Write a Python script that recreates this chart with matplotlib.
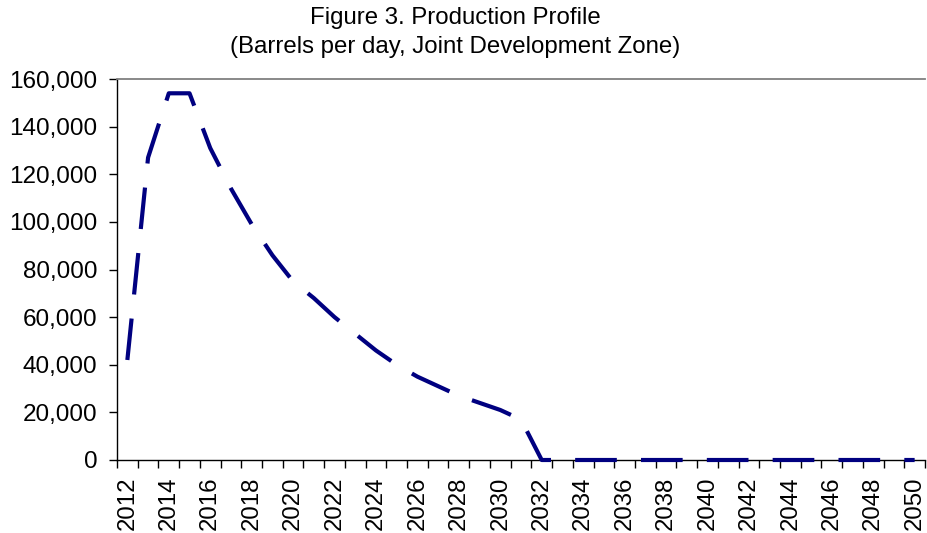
import numpy as np
import matplotlib
matplotlib.use("Agg")
import matplotlib.pyplot as plt
import matplotlib.ticker as mticker

plt.rcParams['font.family'] = ['Liberation Sans', 'DejaVu Sans']

years = list(range(2012, 2051))
production = [42000, 127000, 154000, 154000, 131000, 114000, 99000, 86000,
              75000, 68000, 60000, 53000, 46000, 40000, 35000, 31000, 27000,
              24000, 21000, 17000] + [0] * 19
year_labels = [str(y) for y in years[::2]]
y_ticks = [0, 20000, 40000, 60000, 80000, 100000, 120000, 140000, 160000]

fig = plt.figure(figsize=(9.27, 5.33), dpi=100)
ax = fig.add_axes([117 / 927, 73 / 533, 808 / 927, 381 / 533])

x = np.arange(len(years))
ax.plot(x, production, color='#000080', lw=3, dashes=(10, 5.8),
        dash_capstyle='butt', solid_joinstyle='miter', clip_on=False, zorder=5)

ax.set_xlim(-0.5, len(years) - 0.5)
ax.set_ylim(0, 160000)
ax.set_yticks(y_ticks)
ax.yaxis.set_major_formatter(mticker.FuncFormatter(lambda v, p: f'{int(v):,}'))

# ticks at category boundaries, labels at every other category centre
ax.set_xticks(np.arange(-0.5, len(years), 1.0))
ax.set_xticklabels([])
ax.set_xticks(x[::2], minor=True)
ax.set_xticklabels(year_labels, minor=True, rotation=90)
ax.tick_params(axis='x', which='major', direction='out', length=6, width=1, colors='black')
ax.tick_params(axis='x', which='minor', length=0, pad=12, labelsize=17.3)
ax.tick_params(axis='y', direction='out', length=6, width=1, pad=8, labelsize=17.5)

ax.spines['right'].set_visible(False)
ax.spines['top'].set_color('#808080')
ax.spines['top'].set_linewidth(1.3)
ax.spines['left'].set_linewidth(1)
ax.spines['bottom'].set_linewidth(1)

fig.text(455 / 927, 1 - 18 / 533, 'Figure 3. Production Profile', ha='center', va='center', fontsize=17.3)
fig.text(455 / 927, 1 - 47 / 533, '(Barrels per day, Joint Development Zone)', ha='center', va='center', fontsize=17.3)

fig.savefig('out.png', dpi=100)
